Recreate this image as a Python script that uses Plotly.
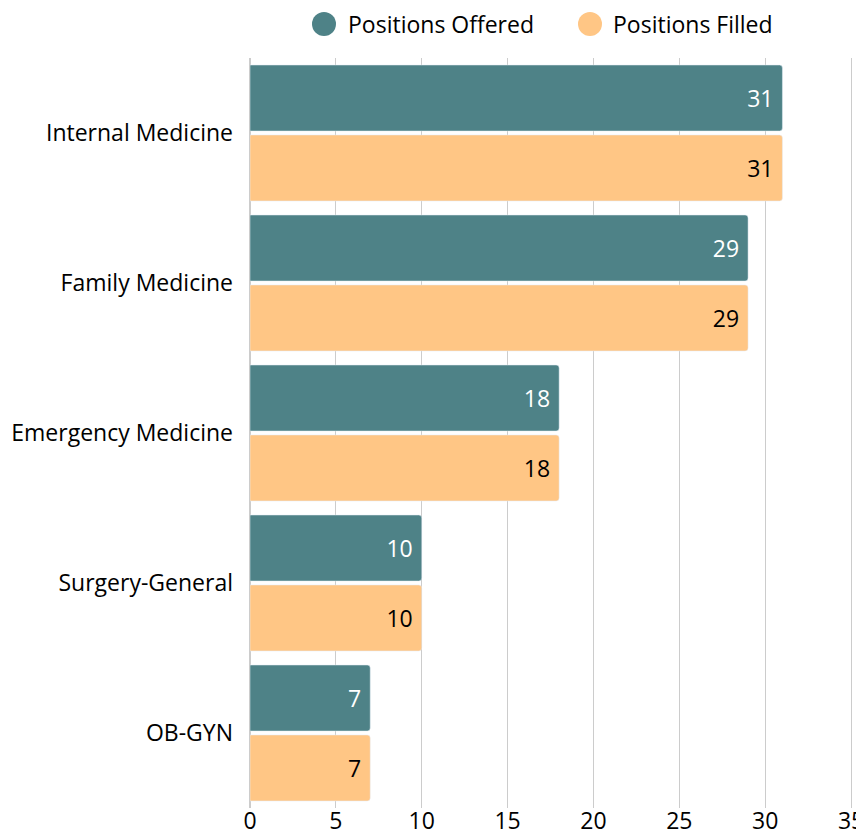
import plotly.graph_objects as go

categories = ["Internal Medicine", "Family Medicine", "Emergency Medicine", "Surgery-General", "OB-GYN"]
offered = [31, 29, 18, 10, 7]
filled = [31, 29, 18, 10, 7]
x_ticks = [0, 5, 10, 15, 20, 25, 30, 35]
x_max = 35.4
series_names = ["Positions Offered", "Positions Filled"]
series_colors = ["#4E8287", "#FFC685"]

FONT = "Open Sans"
FS = 23

# figure sized to fit the viewport inside the page's default 8px body margin
FIG_W, FIG_H = 856, 827
L, R, T, B = 242, 6, 50, 27
W = FIG_W - L - R
H = FIG_H - T - B

fig = go.Figure()
fig.add_trace(go.Bar(
    y=categories, x=offered, orientation="h", name=series_names[0],
    marker=dict(color=series_colors[0]), text=offered, texttemplate="%{x}\u00a0",
    textposition="inside", insidetextanchor="end",
    textfont=dict(color="white", size=FS, family=FONT), showlegend=False,
))
fig.add_trace(go.Bar(
    y=categories, x=filled, orientation="h", name=series_names[1],
    marker=dict(color=series_colors[1]), text=filled, texttemplate="%{x}\u00a0",
    textposition="inside", insidetextanchor="end",
    textfont=dict(color="black", size=FS, family=FONT), showlegend=False,
))

# Manual legend (large circular swatches), positions in figure pixels
legend_items = [(316, 339), (582, 604)]
legend_y = 16
for (cx, tx), name, color in zip(legend_items, series_names, series_colors):
    xp = (cx - L) / W
    yp = (FIG_H - B - legend_y) / H
    fig.add_shape(type="circle", xref="paper", yref="paper",
                  xsizemode="pixel", ysizemode="pixel",
                  xanchor=xp, yanchor=yp, x0=-12, x1=12, y0=-12, y1=12,
                  fillcolor=color, line=dict(width=0))
    fig.add_annotation(text=name, xref="paper", yref="paper",
                       x=(tx - L) / W, y=yp, xanchor="left", yanchor="middle",
                       showarrow=False, borderpad=0,
                       font=dict(size=FS, family=FONT, color="black"))

fig.update_layout(
    width=FIG_W, height=FIG_H,
    barmode="group", bargap=0.067, bargroupgap=0.057, barcornerradius=3,
    plot_bgcolor="white", paper_bgcolor="white",
    font=dict(family=FONT, size=FS, color="black"),
    margin=dict(l=L, r=R, t=T, b=B, autoexpand=False),
    showlegend=False,
    xaxis=dict(range=[0, x_max], tickvals=x_ticks, showgrid=True, gridcolor="#cccccc",
               gridwidth=1, zeroline=True, zerolinecolor="#cccccc", ticks="",
               tickfont=dict(size=FS), automargin=False, ticklabelstandoff=-3,
               ticklabeloverflow="allow"),
    yaxis=dict(autorange="reversed", ticks="", ticklabelstandoff=16,
               tickfont=dict(size=FS), automargin=False),
    uniformtext=dict(mode="show", minsize=10),
)

fig.write_html("out.html")
